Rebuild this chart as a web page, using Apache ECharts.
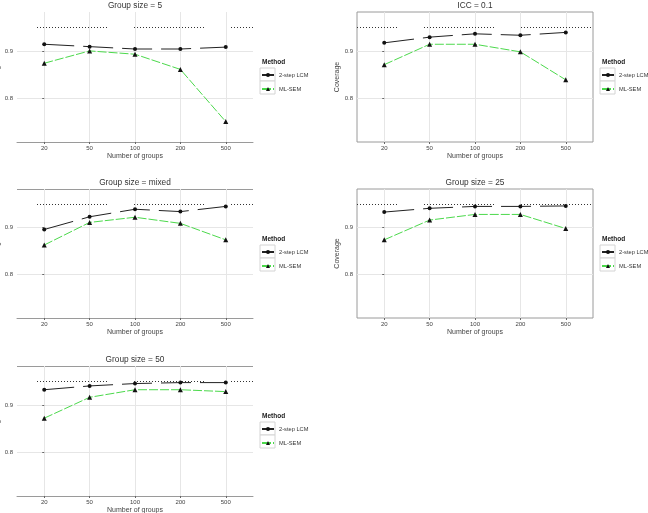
<!DOCTYPE html>
<html>
<head>
<meta charset="utf-8">
<script src="https://cdn.jsdelivr.net/npm/echarts@6/dist/echarts.min.js"></script>
<style>
html,body{margin:0;padding:0;background:#fff;}
#chart{width:648px;height:513px;}
</style>
</head>
<body>
<div id="chart"></div>
<script>
// ---- data ----
const categories = ['20', '50', '100', '200', '500'];
const panelTitles = ['Group size = 5', 'ICC = 0.1', 'Group size = mixed', 'Group size = 25', 'Group size = 50'];
const seriesNames = ['2-step LCM', 'ML-SEM'];
const lcmSize5   = [0.914, 0.909, 0.904, 0.904, 0.908];
const semSize5   = [0.874, 0.900, 0.893, 0.861, 0.751];
const lcmIcc01   = [0.917, 0.929, 0.936, 0.933, 0.939];
const semIcc01   = [0.871, 0.914, 0.914, 0.898, 0.839];
const lcmMixed   = [0.896, 0.923, 0.939, 0.934, 0.945];
const semMixed   = [0.863, 0.911, 0.922, 0.909, 0.874];
const lcmSize25  = [0.933, 0.941, 0.945, 0.945, 0.946];
const semSize25  = [0.874, 0.916, 0.928, 0.928, 0.898];
const lcmSize50  = [0.932, 0.940, 0.945, 0.947, 0.947];
const semSize50  = [0.872, 0.916, 0.932, 0.932, 0.928];
const yTickValues = [0.8, 0.9];
const yTickLabels = ['0.8', '0.9'];
const nominalLevel = 0.95;

const panelData = [
  [lcmSize5, semSize5],
  [lcmIcc01, semIcc01],
  [lcmMixed, semMixed],
  [lcmSize25, semSize25],
  [lcmSize50, semSize50]
];

// ---- layout ----
const grids = [
  {left: 17,  top: 12,  width: 236, height: 130},
  {left: 357, top: 12,  width: 236, height: 130},
  {left: 17,  top: 189, width: 236, height: 129},
  {left: 357, top: 189, width: 236, height: 129},
  {left: 17,  top: 366, width: 236, height: 130}
];
const isRight = [false, true, false, true, false];
const FONT = 'Liberation Sans, Arial, sans-serif';
const GREEN = '#4cd94c';

// dotted reference pattern with periodic gaps
const dotPattern = [];
for (let i = 0; i < 24; i++) { dotPattern.push(1, 2); }
dotPattern[dotPattern.length - 1] = 27;

const catIdx = categories.map((c, i) => i);

const option = {
  animation: false,
  backgroundColor: '#ffffff',
  textStyle: {fontFamily: FONT},
  grid: grids.map((g, i) => Object.assign({
    show: isRight[i],
    borderColor: '#9a9a9a',
    borderWidth: 1,
    backgroundColor: 'transparent',
    containLabel: false,
    outerBoundsMode: 'none'
  }, g)),
  xAxis: grids.map((g, i) => ({
    type: 'value',
    gridIndex: i,
    min: -0.6,
    max: 4.6,
    name: 'Number of groups',
    nameLocation: 'middle',
    nameGap: 11,
    nameTextStyle: {fontSize: 7, color: '#444', fontFamily: FONT},
    axisLine: {show: !isRight[i], lineStyle: {color: '#9a9a9a', width: 1}},
    axisTick: {show: true, length: 2, customValues: catIdx, lineStyle: {color: '#666'}},
    axisLabel: {
      customValues: catIdx,
      formatter: v => categories[Math.round(v)],
      fontSize: 6, color: '#444', margin: 3, fontFamily: FONT
    },
    splitLine: {show: true, lineStyle: {color: '#e6e6e6', width: 1}}
  })),
  yAxis: grids.map((g, i) => ({
    type: 'value',
    gridIndex: i,
    min: 0.708,
    max: 0.982,
    name: 'Coverage',
    nameLocation: 'middle',
    nameRotate: 90,
    nameGap: isRight[i] ? 14.5 : 14.5,
    nameTextStyle: {fontSize: 7, color: '#444', fontFamily: FONT},
    axisLine: {show: false},
    axisTick: {show: true, length: 2, customValues: yTickValues, lineStyle: {color: '#666'}},
    axisLabel: {
      customValues: yTickValues,
      formatter: v => yTickLabels[yTickValues.findIndex(t => Math.abs(t - v) < 1e-6)],
      fontSize: 6, color: '#444', margin: 4, fontFamily: FONT
    },
    splitLine: {show: true, lineStyle: {color: '#e6e6e6', width: 1}}
  })),
  legend: grids.map((g, i) => ({
    orient: 'vertical',
    left: g.left + g.width + 8,
    top: g.top + 60,
    padding: 0,
    itemWidth: 12,
    itemHeight: 5,
    itemGap: 8,
    data: seriesNames,
    selectedMode: false,
    textStyle: {fontSize: 5.7, color: '#333', fontFamily: FONT},
    z: 5
  })),
  series: [],
  graphic: []
};

panelData.forEach((pair, p) => {
  const [lcm, sem] = pair;
  option.series.push({
    name: seriesNames[0],
    type: 'line',
    xAxisIndex: p, yAxisIndex: p,
    data: lcm.map((v, i) => [i, v]),
    symbol: 'circle',
    symbolSize: 4,
    itemStyle: {color: '#111'},
    lineStyle: {color: '#222', width: 1, type: [30, 9]},
    z: 4,
    markLine: {
      silent: true,
      symbol: 'none',
      label: {show: false},
      lineStyle: {color: '#333', width: 1, type: dotPattern, dashOffset: isRight[p] ? 30 : 77},
      data: [{yAxis: nominalLevel}]
    }
  });
  option.series.push({
    name: seriesNames[1],
    type: 'line',
    xAxisIndex: p, yAxisIndex: p,
    data: sem.map((v, i) => [i, v]),
    symbol: 'triangle',
    symbolSize: 5,
    itemStyle: {color: '#111'},
    lineStyle: {color: GREEN, width: 1, type: [9, 2]},
    z: 3
  });
});

// titles, legend headers, key boxes, top frame lines
grids.forEach((g, i) => {
  option.graphic.push({
    type: 'text',
    x: g.left + g.width / 2,
    y: g.top - 6,
    style: {text: panelTitles[i], fill: '#333', font: '8.3px ' + FONT, align: 'center', verticalAlign: 'middle'}
  });
  const lx = g.left + g.width + 8;
  option.graphic.push({
    type: 'text',
    x: lx + 1,
    y: g.top + 50,
    style: {text: 'Method', fill: '#222', font: 'bold 6.5px ' + FONT, align: 'left', verticalAlign: 'middle'}
  });
  for (let k = 0; k < 2; k++) {
    option.graphic.push({
      type: 'rect',
      z: 1,
      shape: {x: lx - 1, y: g.top + 56 + k * 13, width: 15, height: 13},
      style: {fill: '#fff', stroke: '#d4d4d4', lineWidth: 1}
    });
  }
  if (!isRight[i] && i > 0) {
    option.graphic.push({
      type: 'line',
      shape: {x1: g.left, y1: g.top + 0.5, x2: g.left + g.width, y2: g.top + 0.5},
      style: {stroke: '#9a9a9a', lineWidth: 1}
    });
  }
});

const chart = echarts.init(document.getElementById('chart'), null, {renderer: 'canvas'});
chart.setOption(option);
</script>
</body>
</html>
